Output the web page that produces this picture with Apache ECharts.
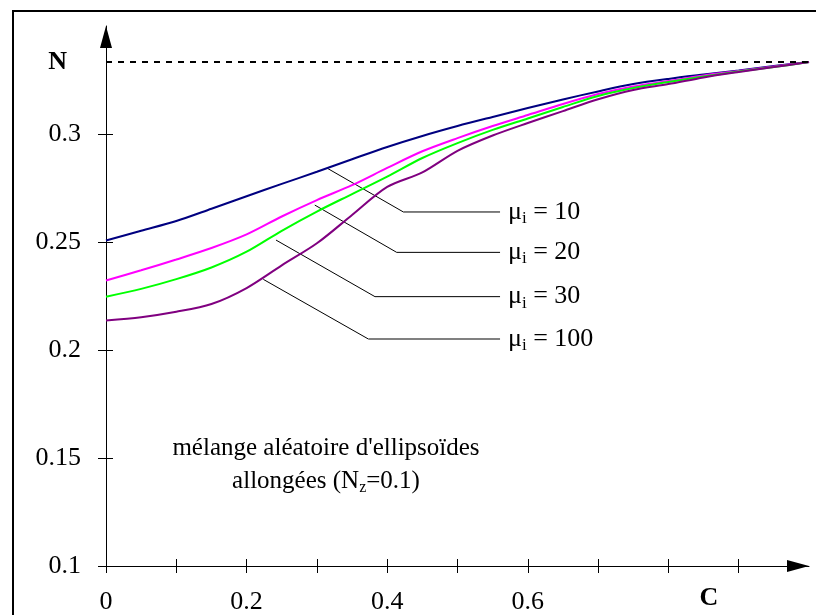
<!DOCTYPE html>
<html>
<head>
<meta charset="utf-8">
<script src="https://cdn.jsdelivr.net/npm/echarts@6/dist/echarts.min.js"></script>
<style>html,body{margin:0;padding:0;background:#fff}#c{width:816px;height:615px}</style>
</head>
<body>
<div id="c"></div>
<script>
// ---- data ----
const C = [0,0.05,0.1,0.15,0.2,0.25,0.3,0.35,0.4,0.45,0.5,0.55,0.6,0.65,0.7,0.75,0.8,0.85,0.9,0.95,1];
const mu10  = [0.2507,0.2552,0.2597,0.2654,0.2712,0.2769,0.2825,0.2883,0.2940,0.2991,0.3037,0.3079,0.3120,0.3160,0.3197,0.3231,0.3255,0.3275,0.3294,0.3315,0.3333];
const mu20  = [0.2322,0.2369,0.2419,0.2472,0.2535,0.2618,0.2694,0.2763,0.2843,0.2920,0.2981,0.3037,0.3088,0.3139,0.3185,0.3220,0.3245,0.3271,0.3292,0.3313,0.3333];
const mu30  = [0.2247,0.2283,0.2328,0.2382,0.2455,0.2552,0.2641,0.2722,0.2803,0.2889,0.2958,0.3019,0.3072,0.3125,0.3176,0.3213,0.3241,0.3266,0.3289,0.3310,0.3333];
const mu100 = [0.2137,0.2152,0.2177,0.2213,0.2287,0.2392,0.2494,0.2625,0.2755,0.2822,0.2922,0.2993,0.3051,0.3106,0.3161,0.3204,0.3231,0.3262,0.3287,0.3310,0.3333];
const muNames = ['10','20','30','100'];
const asymptote = 0.3333;
const xTicks = [0,0.1,0.2,0.3,0.4,0.5,0.6,0.7,0.8,0.9];
const xLabels = [0,0.2,0.4,0.6];
const yTicks = [0.1,0.15,0.2,0.25,0.3];
const yLabels = [0.1,0.15,0.2,0.25,0.3];
// leader lines: [curve point, elbow, end] in data coordinates
const lead10  = [[0.315,0.2841],[0.423,0.2639],[0.5605,0.2639]];
const lead20  = [[0.297,0.2671],[0.4135,0.2452],[0.5605,0.2452]];
const lead30  = [[0.2418,0.2509],[0.3826,0.2247],[0.5605,0.2247]];
const lead100 = [[0.2238,0.2327],[0.3731,0.2051],[0.5605,0.2051]];

const F = '"Liberation Serif","Times New Roman",serif';
const colors = ['#000080','#ff00ff','#00ff00','#800080'];
const curves = [mu10, mu20, mu30, mu100];
const leads = [lead10, lead20, lead30, lead100];

const chart = echarts.init(document.getElementById('c'), null, {renderer:'canvas'});

const series = [];
curves.forEach((arr, i) => {
  series.push({
    type:'line', name:'mu'+muNames[i], showSymbol:false, symbol:'none', smooth:0.3,
    data: C.map((x, k) => [x, arr[k]]),
    lineStyle:{color:colors[i], width:2}, z:3,
    markLine: i === 0 ? {
      silent:true, symbol:['none','none'], label:{show:false}, precision:4,
      lineStyle:{color:'#000', type:[6,6], width:2},
      data:[{yAxis:asymptote}]
    } : undefined
  });
});
leads.forEach((pts, i) => {
  // slanted part
  series.push({
    type:'line', name:'leadA'+muNames[i], showSymbol:false, symbol:'none', z:2,
    data: pts.slice(0, 2),
    lineStyle:{color:'#000', width:1}
  });
  // horizontal part with the label
  series.push({
    type:'line', name:'leadB'+muNames[i], showSymbol:false, symbol:'none', z:2,
    data: pts.slice(1, 3),
    lineStyle:{color: i === 3 ? '#808080' : '#000', width: i === 3 ? 2 : 1},
    endLabel:{
      show:true, distance:8, color:'#000',
      formatter: () => '{m|\u03bc}{s|i}{m| = ' + muNames[i] + '}',
      rich:{
        m:{fontFamily:F, fontSize:26, color:'#000', lineHeight:30},
        s:{fontFamily:F, fontSize:17, color:'#000', lineHeight:20, verticalAlign:'bottom'}
      }
    }
  });
});

const option = {
  animation:false,
  backgroundColor:'#fff',
  grid:{left:106, right:7, top:26, bottom:49},
  xAxis:[{
    type:'value', min:0, max:1, interval:0.1, position:'bottom',
    axisLine:{onZero:false, lineStyle:{color:'#000', width:1}, symbol:['none','triangle'], symbolSize:[12,22], symbolOffset:[0,-11]},
    axisTick:{show:true, inside:false, length:7, customValues:xTicks, lineStyle:{color:'#000'}},
    axisLabel:{customValues:xLabels, margin:23, fontFamily:F, fontSize:26, color:'#000'},
    splitLine:{show:false},
    name:'C', nameLocation:'end', nameGap:-100,
    nameTextStyle:{fontFamily:F, fontSize:26, fontWeight:'bold', color:'#000', align:'center', verticalAlign:'top', padding:[19,0,0,0]}
  },{
    type:'value', min:0, max:1, interval:0.1, position:'bottom',
    axisLine:{show:false, onZero:false},
    axisTick:{show:true, inside:true, length:7, customValues:xTicks, lineStyle:{color:'#000'}},
    axisLabel:{show:false}, splitLine:{show:false}
  }],
  yAxis:[{
    type:'value', min:0.1, max:0.35, interval:0.05, position:'left',
    axisLine:{onZero:false, lineStyle:{color:'#000', width:1}, symbol:['none','triangle'], symbolSize:[12,22], symbolOffset:[0,-11]},
    axisTick:{show:true, inside:false, length:8, customValues:yTicks, lineStyle:{color:'#000'}},
    axisLabel:{customValues:yLabels, margin:25, fontFamily:F, fontSize:26, color:'#000', formatter:v => String(+v.toFixed(2))},
    splitLine:{show:false},
    name:'N', nameLocation:'end', nameGap:-36,
    nameTextStyle:{fontFamily:F, fontSize:26, fontWeight:'bold', color:'#000', align:'right', verticalAlign:'middle', padding:[0,39,0,0]}
  },{
    type:'value', min:0.1, max:0.35, interval:0.05, position:'left',
    axisLine:{show:false, onZero:false},
    axisTick:{show:true, inside:true, length:7, customValues:yTicks, lineStyle:{color:'#000'}},
    axisLabel:{show:false}, splitLine:{show:false}
  }],
  graphic:[
    {type:'rect', shape:{x:13, y:11, width:900, height:800}, style:{fill:null, stroke:'#000', lineWidth:2}, silent:true, z:0},
    {type:'text', x:326, y:448, style:{text:"mélange aléatoire d'ellipsoïdes", font:'25px "Liberation Serif"', fill:'#000', align:'center', verticalAlign:'middle'}},
    {type:'text', x:326, y:481, style:{text:'{t|allongées (N}{s|z}{t|=0.1)}', align:'center', verticalAlign:'middle',
      rich:{t:{fontFamily:F, fontSize:25, fill:'#000', lineHeight:30}, s:{fontFamily:F, fontSize:16, fill:'#000', lineHeight:20, verticalAlign:'bottom'}}}}
  ],
  series: series
};
chart.setOption(option);
</script>
</body>
</html>
